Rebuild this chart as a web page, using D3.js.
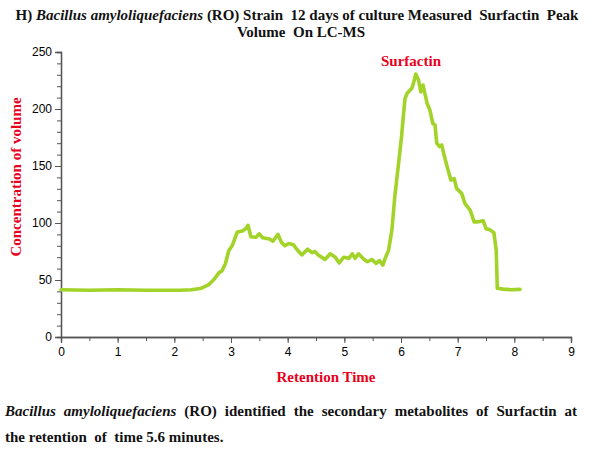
<!DOCTYPE html>
<html><head><meta charset="utf-8">
<script src="https://cdn.jsdelivr.net/npm/d3@7"></script>
<style>body{margin:0;background:#fff}svg{display:block}</style>
</head><body><svg id="c" width="600" height="450"></svg>
<script>
const xTicks = [0,1,2,3,4,5,6,7,8,9];
const yTicks = [0,50,100,150,200,250];
const retentionTime = [0,0.5,1,1.5,2,2.1,2.3,2.46,2.61,2.70,2.79,2.84,2.90,2.96,3.02,3.11,3.20,3.26,3.30,3.35,3.44,3.50,3.56,3.68,3.74,3.83,3.89,3.95,4.02,4.10,4.16,4.25,4.35,4.43,4.48,4.54,4.66,4.75,4.84,4.91,4.99,5.08,5.14,5.19,5.25,5.35,5.41,5.49,5.56,5.62,5.68,5.72,5.78,5.84,5.89,5.95,6.01,6.04,6.07,6.11,6.19,6.22,6.26,6.31,6.35,6.39,6.42,6.46,6.51,6.56,6.60,6.63,6.68,6.72,6.76,6.83,6.88,6.94,6.98,7.07,7.13,7.22,7.29,7.36,7.45,7.50,7.57,7.64,7.68,7.70,7.80,7.95,8.10];
const concentration = [41.5,41,41.5,41,41,41,41.5,42.5,46,50.5,56.5,58,64,75.7,80,92,93,95,98,88,87.5,90.5,87,86,84,90,83,80,82,81,77,72,77,74,75,72,68,73,70,65,70,69,73,69,73,68,66,68,64.5,67,63,69,76,94,123,149,176,193,209,214,218,222.5,230.7,225.4,215,221,214,205,199,187.5,186,170,167,168.4,159.6,146.5,137.7,139,130.4,126,117,111.4,101,101,102,95,94,91.5,76,42.7,42,41.5,41.8];

const svg = d3.select("#c");
const x = d3.scaleLinear().domain([0,9]).range([61,571]);
const y = d3.scaleLinear().domain([0,250]).range([337,52]);
const axisCol = "#555";
const tickFont = "'Liberation Sans', Arial, sans-serif";

svg.append("g").attr("transform","translate(0,337)")
  .call(d3.axisBottom(x).tickValues(d3.range(0,9.01,0.5)).tickSize(4).tickFormat(""));
svg.append("g").attr("transform","translate(0,337)")
  .call(d3.axisBottom(x).tickValues(xTicks).tickSize(6).tickPadding(4).tickFormat(d3.format("d")));
svg.append("g").attr("transform","translate(61,0)")
  .call(d3.axisLeft(y).tickValues(d3.range(0,250.1,10)).tickSize(4).tickFormat(""));
svg.append("g").attr("transform","translate(61,0)")
  .call(d3.axisLeft(y).tickValues(yTicks).tickSize(6).tickPadding(3).tickFormat(d3.format("d")));
svg.selectAll(".domain").attr("stroke",axisCol).attr("stroke-width",1.3);
svg.selectAll(".tick line").attr("stroke",axisCol).attr("stroke-width",1);
svg.selectAll(".tick text").attr("fill","#000").style("font-family",tickFont).style("font-size","12px");

const line = d3.line().x((d,i)=>x(retentionTime[i])).y(d=>y(d)).curve(d3.curveLinear);
svg.append("path").datum(concentration).attr("d",line)
  .attr("fill","none").attr("stroke","#a2d328").attr("stroke-width",3.6)
  .attr("stroke-linejoin","round").attr("stroke-linecap","round");

const serif = "'Liberation Serif','Times New Roman',serif";
const t1 = svg.append("text").attr("x",297).attr("y",20).attr("text-anchor","middle")
  .style("font-family",serif).style("font-weight","bold").style("font-size","15px").attr("fill","#111");
t1.append("tspan").text("H) ");
t1.append("tspan").style("font-style","italic").text("Bacillus amyloliquefaciens");
t1.append("tspan").text(" (RO) Strain\u00a0 12 days of culture Measured\u00a0 Surfactin\u00a0 Peak");
svg.append("text").attr("x",301).attr("y",37).attr("text-anchor","middle")
  .style("font-family",serif).style("font-weight","bold").style("font-size","15px").attr("fill","#111")
  .text("Volume\u00a0 On LC-MS");

svg.append("text").attr("x",411).attr("y",66).attr("text-anchor","middle")
  .style("font-family",serif).style("font-weight","bold").style("font-size","15px").attr("fill","#e8001c")
  .text("Surfactin");

svg.append("text").attr("x",326).attr("y",382).attr("text-anchor","middle")
  .style("font-family",serif).style("font-weight","bold").style("font-size","15px").attr("fill","#e8001c")
  .text("Retention Time");
svg.append("text").attr("transform","translate(21,177) rotate(-90)").attr("text-anchor","middle")
  .style("font-family",serif).style("font-weight","bold").style("font-size","15px").attr("fill","#e8001c")
  .text("Concentration of volume");

const c1 = svg.append("text").attr("x",5).attr("y",416)
  .style("font-family",serif).style("font-weight","bold").style("font-size","15px").attr("fill","#111");
c1.append("tspan").style("font-style","italic").text("Bacillus amyloliquefaciens");
c1.append("tspan").text(" (RO) identified the secondary metabolites of Surfactin at");
const natural = c1.node().getComputedTextLength();
const nSpaces = 9;
c1.style("word-spacing", ((572 - natural)/nSpaces) + "px");
svg.append("text").attr("x",5).attr("y",442)
  .style("font-family",serif).style("font-weight","bold").style("font-size","15px").attr("fill","#111")
  .text("the retention\u00a0 of\u00a0 time 5.6 minutes.");
</script></body></html>
